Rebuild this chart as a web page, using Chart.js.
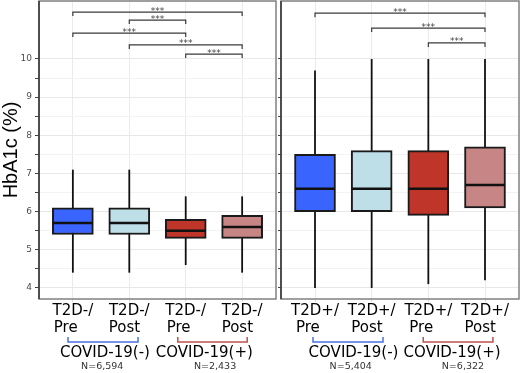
<!DOCTYPE html>
<html><head><meta charset="utf-8">
<script src="https://cdn.jsdelivr.net/npm/chart.js@4.4.1/dist/chart.umd.min.js"></script>
<style>
html,body{margin:0;padding:0;background:#fff;}
#wrap{position:relative;width:520px;height:373px;overflow:hidden;}
#cl{position:absolute;left:0;top:0;}
#cr{position:absolute;left:278px;top:0;}
</style></head><body>
<div id="wrap"><canvas id="cl" width="278" height="373"></canvas><canvas id="cr" width="242" height="373"></canvas></div>
<script>
// ---- data ----
const leftCategories = [["T2D-/","Pre   "],["T2D-/","Post  "],["T2D-/","Pre   "],["T2D-/","Post  "]];
const rightCategories = [["T2D+/","Pre   "],["T2D+/","Post  "],["T2D+/","Pre   "],["T2D+/","Post  "]];
const boxColors = ["#3A64FE","#BEDEE8","#C0352A","#C88585"];
const leftWhiskerLow  = [4.4, 4.4, 4.6, 4.4];
const leftQ1          = [5.4, 5.4, 5.3, 5.3];
const leftMedian      = [5.7, 5.7, 5.5, 5.6];
const leftQ3          = [6.1, 6.1, 5.8, 5.9];
const leftWhiskerHigh = [7.1, 7.1, 6.4, 6.4];
const rightWhiskerLow  = [4.0, 4.0, 4.1, 4.2];
const rightQ1          = [6.0, 6.0, 5.9, 6.1];
const rightMedian      = [6.6, 6.6, 6.6, 6.7];
const rightQ3          = [7.5, 7.6, 7.6, 7.7];
const rightWhiskerHigh = [9.7, 10.0, 10.0, 10.0];
const leftComparisons  = [[1,4,11.23],[2,3,11.02],[1,3,10.68],[2,4,10.37],[3,4,10.13]];
const rightComparisons = [[1,4,11.2],[2,4,10.81],[3,4,10.42]];
const sigLabel = "***";
const yTicks = [4,5,6,7,8,9,10];
const groupLabels = ["COVID-19(-)","COVID-19(+)"];
const groupColors = ["#4A6FE3","#C0504D"];
const leftN = ["N=6,594","N=2,433"];
const rightN = ["N=5,404","N=6,322"];
const yTitle = "HbA1c (%)";

// ---- helpers ----
const allYTicks = [];
yTicks.forEach((t,i)=>{ allYTicks.push(t); if(i<yTicks.length-1) allYTicks.push(t+0.5); });

function boxPlugin(low, med, high, comps, layout, nLabels){
  return {
    id:'boxextras',
    beforeDatasetsDraw(chart){
      const ctx=chart.ctx, xs=chart.scales.x, ys=chart.scales.y;
      ctx.save(); ctx.strokeStyle='#111'; ctx.lineWidth=1.8;
      low.forEach((v,i)=>{
        const x=xs.getPixelForValue(i+1);
        ctx.beginPath(); ctx.moveTo(x,ys.getPixelForValue(v)); ctx.lineTo(x,ys.getPixelForValue(high[i])); ctx.stroke();
      });
      ctx.restore();
    },
    afterDatasetsDraw(chart){
      const ctx=chart.ctx, xs=chart.scales.x, ys=chart.scales.y;
      ctx.save(); ctx.strokeStyle='#111'; ctx.lineWidth=2.5;
      med.forEach((v,i)=>{
        const x=xs.getPixelForValue(i+1), y=ys.getPixelForValue(v);
        ctx.beginPath(); ctx.moveTo(x-20,y); ctx.lineTo(x+20,y); ctx.stroke();
      });
      ctx.restore();
    },
    afterDraw(chart){
      const ctx=chart.ctx, xs=chart.scales.x, ys=chart.scales.y, a=chart.chartArea;
      ctx.save();
      // panel border
      ctx.strokeStyle='#808080'; ctx.lineWidth=1.5;
      ctx.strokeRect(a.left,a.top,a.right-a.left,a.bottom-a.top);
      ctx.strokeStyle='#333'; ctx.beginPath(); ctx.moveTo(a.left,a.top); ctx.lineTo(a.left,a.bottom); ctx.stroke();
      // significance brackets
      ctx.strokeStyle='#3a3a3a'; ctx.lineWidth=1.2; ctx.fillStyle='#444';
      ctx.font='9px "DejaVu Sans"'; ctx.textAlign='center'; ctx.textBaseline='alphabetic';
      comps.forEach(c=>{
        const x1=xs.getPixelForValue(c[0]), x2=xs.getPixelForValue(c[1]), y=ys.getPixelForValue(c[2]);
        ctx.beginPath(); ctx.moveTo(x1,y+4); ctx.lineTo(x1,y); ctx.lineTo(x2,y); ctx.lineTo(x2,y+4); ctx.stroke();
        ctx.fillText(sigLabel,(x1+x2)/2,y+1.5);
      });
      // group brackets & labels
      layout.forEach((g,k)=>{
        const x1=xs.getPixelForValue(g.b[0]), x2=xs.getPixelForValue(g.b[1]);
        ctx.strokeStyle=groupColors[k]; ctx.lineWidth=1.5;
        ctx.beginPath(); ctx.moveTo(x1,337); ctx.lineTo(x1,342); ctx.lineTo(x2,342); ctx.lineTo(x2,337); ctx.stroke();
        ctx.fillStyle='#000'; ctx.font='15px "DejaVu Sans"';
        ctx.fillText(groupLabels[k], xs.getPixelForValue(g.t), 357);
        ctx.fillStyle='#333'; ctx.font='9.5px "DejaVu Sans"';
        ctx.fillText(nLabels[k], xs.getPixelForValue(g.n), 369);
      });
      ctx.restore();
    }
  };
}

function makeChart(id, cats, q1, q3, low, med, high, comps, layout, nLabels, isLeft){
  return new Chart(document.getElementById(id),{
    type:'bar',
    data:{datasets:[{
      data:q1.map((v,i)=>({x:i+1,y:[v,q3[i]]})),
      backgroundColor:boxColors, borderColor:'#1A1A1A', borderWidth:2, borderSkipped:false,
      barThickness:41
    }]},
    options:{
      responsive:false, animation:false, devicePixelRatio:1,
      layout:{padding:{top:1,right:isLeft?2:1,left:0,bottom:0}},
      plugins:{legend:{display:false},tooltip:{enabled:false}},
      scales:{
        x:{type:'linear',min:0.4,max:4.6,offset:false,
          afterBuildTicks(s){ s.ticks=cats.map((c,i)=>({value:i+1})); },
          afterFit(s){ s.height=74; s.paddingLeft=0; s.paddingRight=0; },
          grid:{offset:false,color:'#EBEBEB',lineWidth:1,tickLength:3,tickColor:'#DDDDDD'},
          border:{display:false},
          ticks:{padding:0,color:'#000',font:{family:'DejaVu Sans',size:15,lineHeight:1.15},
            maxRotation:0,autoSkip:false,callback:(v)=>cats[Math.round(v)-1]}
        },
        y:{type:'linear',min:3.71,max:11.52,
          afterBuildTicks(s){ s.ticks=allYTicks.map(v=>({value:v})); },
          afterFit(s){ s.width=isLeft?39:3; s.paddingTop=0; s.paddingBottom=0; },
          grid:{color:(c)=>Number.isInteger(c.tick.value)?'#E8E8E8':'#F3F3F3',lineWidth:1,tickLength:isLeft?4:3,tickColor:'#444'},
          border:{display:false},
          title:{display:isLeft,text:yTitle,color:'#000',font:{family:'Liberation Sans',size:20,lineHeight:1.0},padding:{top:1,bottom:0}},
          ticks:{display:isLeft,padding:3,color:'#4D4D4D',font:{family:'DejaVu Sans',size:9},autoSkip:false,
            callback:(v)=>Number.isInteger(v)?String(v):''}
        }
      }
    },
    plugins:[boxPlugin(low,med,high,comps,layout,nLabels)]
  });
}

makeChart('cl',leftCategories,leftQ1,leftQ3,leftWhiskerLow,leftMedian,leftWhiskerHigh,leftComparisons,
  [{b:[0.914,2.155],t:1.57,n:1.52},{b:[2.86,4.09],t:3.33,n:3.52}],leftN,true);
makeChart('cr',rightCategories,rightQ1,rightQ3,rightWhiskerLow,rightMedian,rightWhiskerHigh,rightComparisons,
  [{b:[0.965,2.20],t:1.68,n:1.63},{b:[2.91,4.14],t:3.42,n:3.61}],rightN,false);
</script>
</body></html>
